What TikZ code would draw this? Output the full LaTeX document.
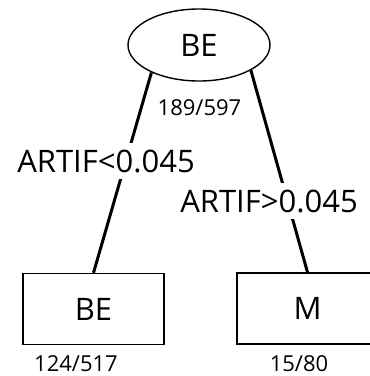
\documentclass[tikz,border=0pt]{standalone}
\usepackage{fontspec}
\setmainfont{Open Sans}
\usetikzlibrary{shapes.geometric}
\tikzset{
  big/.style={font=\fontsize{31}{31}\selectfont},
  small/.style={font=\fontsize{22}{22}\selectfont, inner sep=0pt},
  rootnode/.style={draw, ellipse, line width=1.4pt, minimum width=142pt, minimum height=72pt, inner sep=0pt, big},
  leafbox/.style={draw, rectangle, line width=1.4pt, minimum width=141pt, minimum height=71pt, inner sep=0pt, big},
  conn/.style={line width=3pt},
  cond/.style={big, fill=white, inner xsep=2pt, inner ysep=7pt}
}
\begin{document}
\begin{tikzpicture}[x=1pt,y=-1pt]
\useasboundingbox (0,0) rectangle (370,376);
\node[rootnode] (root) at (199,45) {BE};
\node[leafbox] (lbox) at (93.5,309) {BE};
\node[leafbox] (rbox) at (307.5,308.5) {M};
\draw[conn] (root.210) -- (lbox.north);
\draw[conn] (root.334) -- (rbox.north);
\node[cond] (lcond) at (106,161) {ARTIF<0.045};
\node[cond] (rcond) at (269,201) {ARTIF>0.045};
\node[small] (rootn) at (199.5,108) {189/597};
\node[small] (ln) at (76,364) {124/517};
\node[small] (rn) at (299,364) {15/80};
\end{tikzpicture}
\end{document}
